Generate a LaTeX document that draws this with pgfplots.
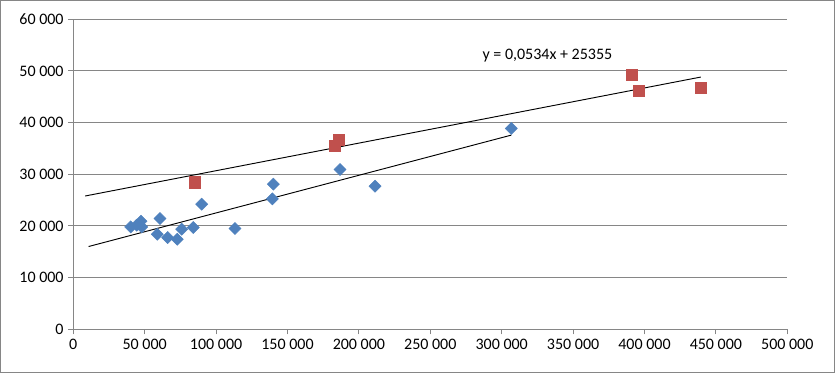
\documentclass[border=0pt]{standalone}
\usepackage{pgfplots}
\pgfplotsset{compat=1.18}
\usepackage{fontspec}
\setmainfont{Carlito}
\definecolor{gridgray}{RGB}{134,134,134}
\definecolor{xlblue}{RGB}{79,129,189}
\definecolor{xlred}{RGB}{192,80,77}
\begin{document}
\begin{tikzpicture}
\begin{axis}[
  name=ax,
  width=535.5pt, height=232.5pt, scale only axis,
  xmin=0, xmax=500000, ymin=0, ymax=60000,
  xtick={0,50000,...,500000}, ytick={0,10000,...,60000},
  axis x line*=bottom, axis y line*=left,
  axis line style={-, draw=gridgray, line width=0.75pt},
  ymajorgrids, major grid style={draw=gridgray, line width=0.75pt},
  tick align=outside, major tick length=3.75pt,
  tick style={draw=gridgray, line width=0.75pt},
  scaled ticks=false,
  tick label style={font=\fontsize{12}{14}\selectfont, text=black},
  /pgf/number format/.cd, fixed, precision=0, 1000 sep={\ }, assume math mode=true,
  /pgfplots/.cd,
  clip=false,
]
% blue series
\addplot[only marks, mark=square*, mark size=3.2pt, mark options={rotate=45, fill=xlblue, draw=xlblue}] coordinates {
(40200,19820) (44400,20150) (47400,20920) (47900,19820) (60700,21440)
(58800,18400) (66100,17760) (72800,17430) (75900,19370) (84000,19700)
(89900,24210) (113200,19510) (140100,28090) (139400,25240) (186800,30930)
(211300,27700) (306700,38880)
};
% red series
\addplot[only marks, mark=square*, mark size=4.2pt, mark options={fill=xlred, draw=xlred}] coordinates {
(85200,28470) (186100,36610) (183300,35450) (391200,49260) (396100,46160) (439400,46740)
};
% trend lines
\addplot[black, line width=0.7pt] coordinates {(10700,16020) (306700,37580)};
\addplot[black, line width=0.7pt] coordinates {(8260,25796) (439400,48819)};
\node[font=\fontsize{12}{14}\selectfont] at (axis cs:332000,53070) {y = 0,0534x + 25355};
\end{axis}
\draw[gridgray, line width=0.75pt] ([xshift=-54.6pt, yshift=-32.6pt]ax.south west) rectangle ([xshift=35.4pt, yshift=14.1pt]ax.north east);
\end{tikzpicture}
\end{document}
